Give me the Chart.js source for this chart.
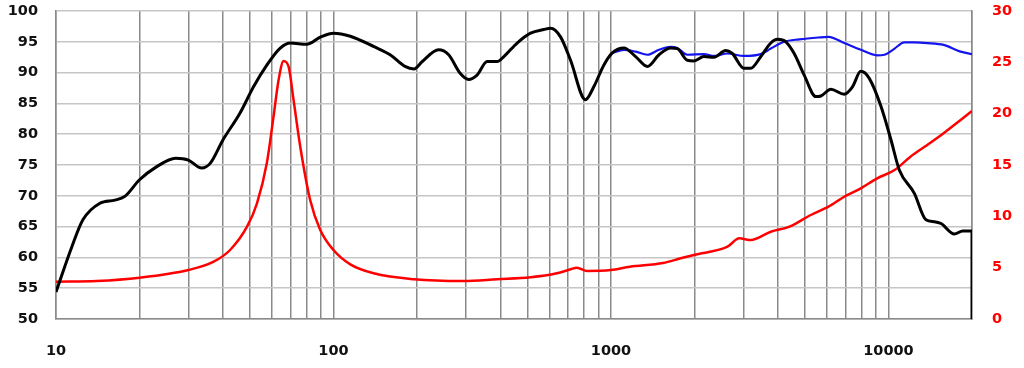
<!DOCTYPE html>
<html>
<head>
<meta charset="utf-8">
<script src="https://cdn.jsdelivr.net/npm/chart.js@4/dist/chart.umd.min.js"></script>
<style>
  html, body { margin: 0; padding: 0; background: #fff; }
  #wrap { width: 1024px; height: 368px; }
</style>
</head>
<body>
<div id="wrap"><canvas id="chart"></canvas></div>
<script>
// frequency response (left axis, dB)
const splFreq = [10, 11.4, 12.5, 14.4, 16.3, 17.7, 20, 23, 27, 30, 33.5, 36, 40, 46, 51.5, 57.5, 64, 70, 80, 90,
  100, 115, 140, 160, 181, 195, 209, 239, 260, 286, 307, 329, 358, 389, 411, 459, 513, 573, 606, 658,
  715, 809, 867, 942, 1011, 1113, 1227, 1353, 1490, 1641, 1734, 1884, 1990, 2163, 2351, 2590, 2737, 3015,
  3189, 3467, 3767, 3982, 4266, 4573, 4969, 5475, 5707, 6200, 6925, 7420, 7948, 8516, 9402, 10208,
  10941, 12394, 13650, 14630, 15460, 17270, 18510, 20000, 20000];
const splValues = [54.4, 61.7, 66.1, 68.8, 69.3, 69.9, 72.6, 74.7, 76.1, 75.8, 74.5, 75.3, 79.1, 83.4, 87.7, 91.2, 93.9, 94.8, 94.6, 95.8,
  96.4, 95.9, 94.2, 92.9, 91.0, 90.6, 91.8, 93.7, 92.9, 89.9, 88.9, 89.6, 91.8, 91.8, 92.6, 94.8, 96.4, 97.0, 97.2, 95.8,
  92.0, 85.6, 87.7, 91.2, 93.2, 94.0, 92.6, 91.0, 92.9, 94.0, 93.9, 92.0, 91.9, 92.6, 92.5, 93.6, 93.1, 90.7,
  90.7, 92.6, 94.8, 95.4, 95.0, 93.1, 89.6, 86.1, 86.2, 87.3, 86.5, 87.7, 90.2, 89.1, 84.5, 79.1,
  74.2, 70.4, 66.1, 65.8, 65.5, 63.8, 64.3, 64.3, 50];

// second response (blue, left axis)
const blueFreq = [1011, 1113, 1227, 1353, 1490, 1641, 1734, 1884, 2163, 2351, 2630, 3015, 3467, 3767, 4200,
  4777, 5596, 6079, 6925, 7948, 9107, 9677, 10520, 11400, 12394, 13800, 15800, 18200, 20000];
const blueValues = [93.2, 93.7, 93.4, 92.9, 93.7, 94.2, 94.0, 92.9, 93.0, 92.7, 93.1, 92.7, 93.0, 93.9, 95.0,
  95.4, 95.7, 95.8, 94.8, 93.7, 92.8, 92.9, 93.9, 94.9, 94.9, 94.8, 94.5, 93.4, 93.0];

// impedance (right axis, ohm)
const impFreq = [10, 14, 20, 30, 37, 42.4, 48.8, 53, 57.5, 60.8, 63.4, 66.1, 68.9, 71.8, 75.9, 82.4, 89.6,
  100, 115, 139.5, 195, 294, 389, 513, 638, 715, 754, 820, 998, 1170, 1540, 1783, 1990, 2630, 2900,
  3189, 3767, 4400, 5250, 6079, 6925, 7948, 9107, 10520, 12000, 13800, 15800, 18200, 20000];
const impValues = [3.63, 3.70, 4.02, 4.77, 5.58, 6.72, 8.99, 11.27, 15.17, 19.71, 23.28, 25.13, 24.58, 21.33, 16.78, 11.59, 8.67,
  6.72, 5.32, 4.45, 3.87, 3.70, 3.87, 4.06, 4.45, 4.84, 5.0, 4.68, 4.77, 5.09, 5.45, 5.91, 6.24, 7.04, 7.86,
  7.69, 8.50, 8.99, 10.13, 10.94, 11.91, 12.73, 13.70, 14.51, 15.81, 16.95, 18.09, 19.38, 20.26];

const xGrid = [10, 20, 30, 40, 50, 60, 70, 80, 90, 100, 200, 300, 400, 500, 600, 700, 800, 900,
  1000, 2000, 3000, 4000, 5000, 6000, 7000, 8000, 9000, 10000, 20000];
const xLabels = [10, 100, 1000, 10000];

function toPoints(xs, ys) {
  return xs.map((x, i) => ({ x: x, y: ys[i] }));
}

// labels may hang outside the plot, like in the original
function noPadding(scale) {
  scale.paddingTop = 0;
  scale.paddingBottom = 0;
  scale.paddingLeft = 0;
  scale.paddingRight = 0;
}

const tickFont = { family: "DejaVu Sans", size: 14.5, weight: "bold" };

new Chart(document.getElementById("chart"), {
  type: "line",
  data: {
    datasets: [
      {
        data: toPoints(splFreq, splValues),
        yAxisID: "y",
        borderColor: "#000000",
        borderWidth: 3,
        order: 1
      },
      {
        data: toPoints(blueFreq, blueValues),
        yAxisID: "y",
        borderColor: "#1414f0",
        borderWidth: 2.2,
        order: 2
      },
      {
        data: toPoints(impFreq, impValues),
        yAxisID: "y2",
        borderColor: "#ff0000",
        borderWidth: 2.5,
        order: 3
      }
    ]
  },
  options: {
    responsive: true,
    maintainAspectRatio: false,
    animation: false,
    layout: { padding: { top: 11, left: 0, right: 0, bottom: 0 } },
    elements: {
      point: { radius: 0 },
      line: { cubicInterpolationMode: "monotone", fill: false }
    },
    plugins: {
      legend: { display: false },
      tooltip: { enabled: false }
    },
    scales: {
      x: {
        type: "logarithmic",
        min: 10,
        max: 20000,
        afterBuildTicks: (scale) => {
          scale.ticks = xGrid.map((v) => ({ value: v }));
        },
        afterFit: (scale) => { scale.height = 49; noPadding(scale); },
        grid: { color: "#8a8a8a", lineWidth: 1.5, drawTicks: false },
        border: { color: "#8a8a8a", width: 1.5 },
        ticks: {
          autoSkip: false,
          maxRotation: 0,
          padding: 24,
          color: "#111",
          font: tickFont,
          callback: (value) => xLabels.includes(value) ? String(value) : ""
        }
      },
      y: {
        position: "left",
        min: 50,
        max: 100,
        afterFit: (scale) => { scale.width = 56; noPadding(scale); },
        grid: { color: "#c6c6c6", lineWidth: 1.5, drawTicks: false },
        border: { color: "#8a8a8a", width: 1.5 },
        ticks: { stepSize: 5, padding: 18, color: "#111", font: tickFont }
      },
      y2: {
        position: "right",
        min: 0,
        max: 30,
        afterFit: (scale) => { scale.width = 52; noPadding(scale); },
        grid: { display: false, drawTicks: false },
        border: { color: "#8a8a8a", width: 1.5 },
        ticks: { stepSize: 5, padding: 20, color: "#ff0000", font: tickFont }
      }
    }
  }
});
</script>
</body>
</html>
